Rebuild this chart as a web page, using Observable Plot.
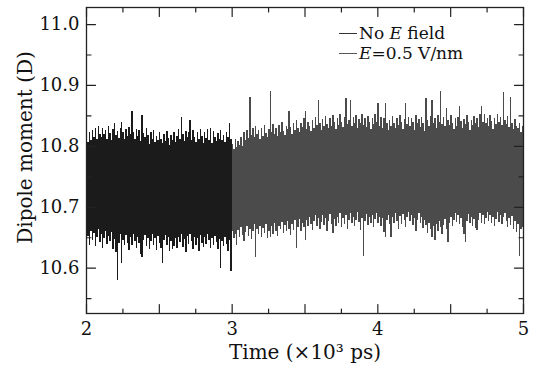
<!DOCTYPE html>
<html><head><meta charset="utf-8">
<script src="https://cdn.jsdelivr.net/npm/d3@7"></script>
<script src="https://cdn.jsdelivr.net/npm/@observablehq/plot@0.6"></script>
<style>
body{margin:0;background:#fff}
#wrap{position:relative;width:534px;height:367px}
.legend{position:absolute;left:339px;top:23px;font-family:"DejaVu Serif";font-size:17px;line-height:20px;color:#111;white-space:nowrap}
.legend .sw{display:inline-block;width:18px;height:0;border-top:1.2px solid #555;vertical-align:middle;margin-right:2px;position:relative;top:-1px}
</style></head>
<body><div id="wrap"></div>
<script>
// Time (x10^3 ps) of first bin edge and bin width for each series
const blackStart = 2.0, grayStart = 3.0, binStep = 0.01;
// Per-bin upper / lower envelope, No E field (2–3)
const blackHi = [10.817,10.806,10.822,10.809,10.826,10.815,10.829,10.811,10.832,10.820,
10.814,10.830,10.819,10.826,10.812,10.833,10.821,10.809,10.828,10.837,
10.818,10.825,10.813,10.829,10.840,10.822,10.811,10.827,10.816,10.831,
10.819,10.858,10.823,10.812,10.828,10.817,10.826,10.808,10.850,10.821,
10.814,10.829,10.818,10.803,10.822,10.811,10.826,10.806,10.817,10.809,
10.823,10.812,10.805,10.819,10.808,10.824,10.813,10.802,10.818,10.810,
10.822,10.807,10.816,10.828,10.812,10.847,10.819,10.808,10.825,10.814,
10.822,10.842,10.809,10.826,10.815,10.806,10.823,10.811,10.828,10.817,
10.805,10.822,10.813,10.827,10.810,10.829,10.804,10.825,10.814,10.808,
10.821,10.812,10.826,10.809,10.818,10.806,10.823,10.815,10.837,10.811];
const blackLo = [10.618,10.652,10.638,10.661,10.645,10.657,10.636,10.650,10.664,10.642,
10.655,10.633,10.648,10.660,10.639,10.652,10.644,10.658,10.630,10.647,
10.626,10.580,10.641,10.655,10.608,10.645,10.637,10.653,10.641,10.629,
10.650,10.638,10.656,10.643,10.632,10.651,10.640,10.622,10.618,10.646,
10.654,10.635,10.649,10.631,10.643,10.656,10.637,10.648,10.629,10.652,
10.640,10.633,10.608,10.645,10.653,10.638,10.650,10.627,10.644,10.630,
10.636,10.648,10.632,10.651,10.642,10.656,10.634,10.647,10.625,10.652,
10.639,10.655,10.643,10.631,10.650,10.637,10.648,10.628,10.653,10.641,
10.634,10.651,10.639,10.656,10.645,10.632,10.649,10.637,10.652,10.642,
10.630,10.647,10.600,10.644,10.635,10.651,10.639,10.628,10.646,10.594];
// Per-bin upper / lower envelope, E = 0.5 V/nm (3–5)
const grayHi = [10.803,10.795,10.812,10.798,10.808,10.801,10.815,10.799,10.822,10.810,
10.826,10.813,10.880,10.818,10.829,10.815,10.833,10.819,10.826,10.812,
10.830,10.817,10.835,10.821,10.814,10.828,10.890,10.823,10.836,10.820,
10.829,10.816,10.834,10.822,10.839,10.825,10.818,10.833,10.827,10.858,
10.831,10.820,10.838,10.826,10.843,10.829,10.822,10.837,10.831,10.845,
10.858,10.828,10.840,10.833,10.824,10.842,10.830,10.847,10.835,10.875,
10.838,10.826,10.844,10.832,10.849,10.836,10.829,10.845,10.833,10.851,
10.839,10.827,10.846,10.834,10.852,10.840,10.831,10.847,10.878,10.836,
10.843,10.875,10.832,10.848,10.837,10.851,10.829,10.844,10.838,10.853,
10.834,10.846,10.831,10.849,10.840,10.827,10.845,10.836,10.852,10.839,
10.870,10.833,10.848,10.830,10.845,10.870,10.838,10.826,10.843,10.832,
10.849,10.837,10.829,10.846,10.835,10.851,10.840,10.828,10.844,10.871,
10.836,10.848,10.833,10.845,10.839,10.826,10.850,10.837,10.844,10.831,
10.847,10.838,10.824,10.878,10.842,10.833,10.849,10.875,10.837,10.845,
10.829,10.851,10.839,10.890,10.836,10.848,10.832,10.862,10.843,10.835,
10.850,10.838,10.827,10.846,10.833,10.848,10.866,10.841,10.830,10.844,
10.836,10.851,10.839,10.826,10.843,10.834,10.849,10.837,10.845,10.831,
10.852,10.866,10.840,10.853,10.838,10.846,10.833,10.850,10.841,10.828,
10.845,10.836,10.852,10.839,10.847,10.834,10.888,10.843,10.836,10.849,
10.831,10.880,10.838,10.827,10.844,10.833,10.829,10.837,10.822,10.832];
const grayLo = [10.661,10.648,10.655,10.637,10.662,10.651,10.666,10.654,10.643,10.659,
10.668,10.652,10.664,10.647,10.660,10.671,10.618,10.663,10.655,10.669,
10.650,10.665,10.657,10.672,10.648,10.661,10.650,10.668,10.656,10.673,
10.660,10.652,10.669,10.663,10.675,10.657,10.670,10.661,10.676,10.664,
10.654,10.671,10.662,10.678,10.632,10.667,10.680,10.660,10.674,10.666,
10.645,10.679,10.668,10.683,10.671,10.662,10.677,10.686,10.669,10.681,
10.664,10.675,10.687,10.670,10.682,10.660,10.676,10.688,10.672,10.657,
10.680,10.669,10.684,10.674,10.689,10.667,10.681,10.671,10.686,10.663,
10.678,10.690,10.673,10.684,10.668,10.679,10.691,10.675,10.662,10.682,
10.620,10.677,10.688,10.670,10.683,10.673,10.686,10.666,10.680,10.689,
10.674,10.684,10.668,10.681,10.658,10.650,10.679,10.687,10.671,10.650,
10.683,10.674,10.690,10.677,10.664,10.685,10.672,10.688,10.679,10.667,
10.684,10.692,10.676,10.686,10.670,10.681,10.660,10.678,10.689,10.673,
10.683,10.665,10.679,10.670,10.657,10.674,10.663,10.650,10.668,10.645,
10.672,10.661,10.676,10.666,10.655,10.670,10.680,10.664,10.642,10.673,
10.684,10.668,10.679,10.690,10.675,10.686,10.671,10.682,10.667,10.655,
10.642,10.677,10.688,10.673,10.684,10.669,10.680,10.665,10.662,10.678,
10.689,10.674,10.686,10.671,10.682,10.692,10.677,10.687,10.673,10.684,
10.668,10.680,10.691,10.675,10.686,10.672,10.683,10.690,10.676,10.666,
10.681,10.670,10.685,10.664,10.677,10.658,10.672,10.620,10.663,10.667];
// Axis ticks
const xLabels = [2, 3, 4, 5];
const xMajor = [2, 2.5, 3, 3.5, 4, 4.5, 5];
const xMinor = [2.25, 2.75, 3.25, 3.75, 4.25, 4.75];
const yLabels = [10.6, 10.7, 10.8, 10.9, 11.0];
const yMinor = [10.55, 10.65, 10.75, 10.85, 10.95];
const xDomain = [2, 5], yDomain = [10.5256, 11.028];

const bins = (hi, lo, start) => hi.map((h, i) => ({t0: start + i * binStep, t1: start + (i + 1) * binStep, hi: h, lo: lo[i]}));
const black = bins(blackHi, blackLo, blackStart);
const gray = bins(grayHi, grayLo, grayStart);

const tickShape = {draw(ctx, l) { ctx.moveTo(0, 0); ctx.lineTo(0, -l); }};
const tk = "#222";
function ticksX(vals, len) {
  return [
    Plot.vector(vals, {x: d => d, frameAnchor: "bottom", length: len, rotate: 0, anchor: "start", shape: tickShape, stroke: tk, strokeWidth: 1.2}),
    Plot.vector(vals, {x: d => d, frameAnchor: "top", length: len, rotate: 180, anchor: "start", shape: tickShape, stroke: tk, strokeWidth: 1.2})
  ];
}
function ticksY(vals, len) {
  return [
    Plot.vector(vals, {y: d => d, frameAnchor: "left", length: len, rotate: 90, anchor: "start", shape: tickShape, stroke: tk, strokeWidth: 1.2}),
    Plot.vector(vals, {y: d => d, frameAnchor: "right", length: len, rotate: -90, anchor: "start", shape: tickShape, stroke: tk, strokeWidth: 1.2})
  ];
}

const chart = Plot.plot({
  width: 534, height: 367,
  marginLeft: 86, marginRight: 11, marginTop: 7, marginBottom: 54,
  style: {fontFamily: "DejaVu Serif", fontSize: "18px", background: "white", color: "#111"},
  x: {domain: xDomain},
  y: {domain: yDomain},
  marks: [
    Plot.rect(black, {x1: "t0", x2: "t1", y1: "lo", y2: "hi", fill: "#1b1b1b", shapeRendering: "crispEdges"}),
    Plot.rect(gray, {x1: "t0", x2: "t1", y1: "lo", y2: "hi", fill: "#4b4b4b", shapeRendering: "crispEdges"}),
    Plot.frame({stroke: tk, strokeWidth: 1.3}),
    ...ticksX(xMajor, 9), ...ticksX(xMinor, 4.5),
    ...ticksY(yLabels, 9), ...ticksY(yMinor, 4.5),
    Plot.axisX({ticks: xLabels, tickSize: 0, tickPadding: 9, label: null, tickFormat: d => String(d), fontSize: 18}),
    Plot.axisY({ticks: yLabels, tickSize: 0, tickPadding: 7, label: null, tickFormat: d => d.toFixed(1), fontSize: 18}),
    Plot.text(["Dipole moment (D)"], {text: d => d, frameAnchor: "left", textAnchor: "middle", dx: -61, dy: -13, rotate: -90, fontSize: 20}),
    Plot.text(["Time (×10³ ps)"], {text: d => d, frameAnchor: "bottom", textAnchor: "middle", dy: 45, fontSize: 20})
  ]
});
const wrap = document.getElementById("wrap");
wrap.appendChild(chart);
const leg = document.createElement("div");
leg.className = "legend";
leg.innerHTML = '<div><span class="sw" style="border-color:#333"></span>No <i>E</i> field</div>' +
                '<div><span class="sw"></span><i>E</i>=0.5 V/nm</div>';
wrap.appendChild(leg);
</script>
</body></html>
